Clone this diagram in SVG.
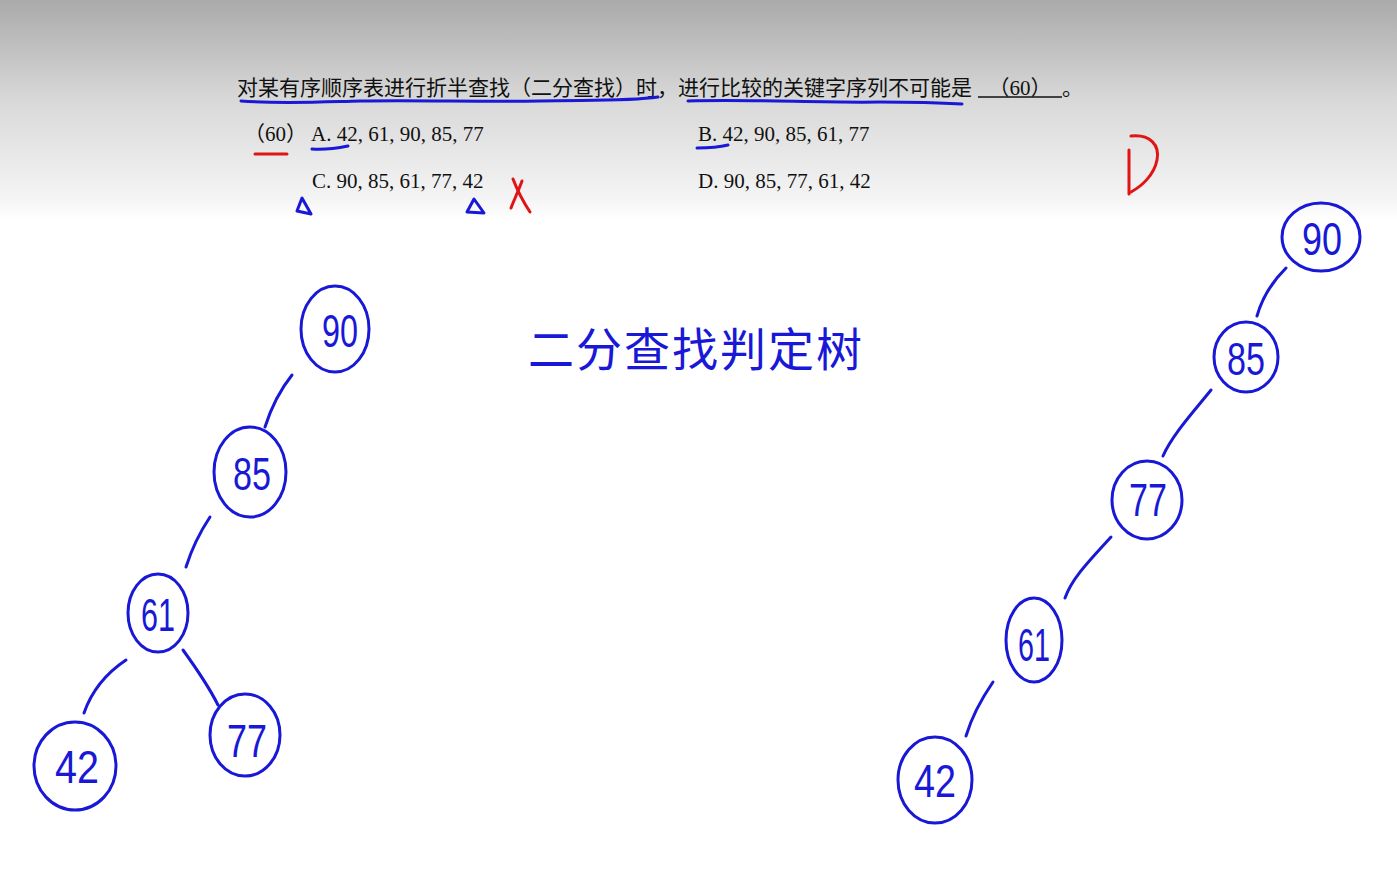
<svg xmlns="http://www.w3.org/2000/svg" width="1397" height="879" viewBox="0 0 1397 879">
<defs>
<linearGradient id="hdr" x1="0" y1="0" x2="0" y2="1">
<stop offset="0" stop-color="#aaaaaa"/>
<stop offset="0.45" stop-color="#d8d8d8"/>
<stop offset="0.9" stop-color="#f4f4f4"/>
<stop offset="1" stop-color="#ffffff"/>
</linearGradient>
</defs>
<style>
.q{font-family:"Liberation Serif","Noto Sans CJK SC",serif;font-size:21px;fill:#111}
.ink{fill:none;stroke:#1818d6;stroke-width:3;stroke-linecap:round;stroke-linejoin:round}
.red{fill:none;stroke:#e01414;stroke-width:3;stroke-linecap:round;stroke-linejoin:round}
.num{font-family:"Liberation Sans","DejaVu Sans",sans-serif;font-size:46px;fill:#1818d6;text-anchor:middle}
.hw{font-family:"Noto Sans CJK SC",sans-serif;font-size:46px;fill:#1818d6}
</style>
<rect width="1397" height="879" fill="#ffffff"/>
<rect width="1397" height="220" fill="url(#hdr)"/>

<g id="question">
<text class="q" x="237" y="95">对某有序顺序表进行折半查找（二分查找）时，进行比较的关键字序列不可能是</text>
<line x1="978" y1="97" x2="1062" y2="97" stroke="#111" stroke-width="1.5"/>
<text class="q" x="1020" y="95" text-anchor="middle">（60）</text>
<text class="q" x="1062" y="95">。</text>
<text class="q" x="244" y="141">（60）</text>
<text class="q" x="311" y="141">A. 42, 61, 90, 85, 77</text>
<text class="q" x="698" y="141">B. 42, 90, 85, 61, 77</text>
<text class="q" x="312" y="188">C. 90, 85, 61, 77, 42</text>
<text class="q" x="698" y="188">D. 90, 85, 77, 61, 42</text>
</g>

<g id="annotations">
<path class="ink" d="M241,101 C280,104 320,102 360,101 C420,100 480,102 540,101 C600,100 630,101 658,97"/>
<path class="ink" d="M688,101 C750,99 820,103 880,102 C920,102 945,103 962,104"/>
<path class="red" d="M255,154 L287,154"/>
<path class="ink" d="M312,149 C325,150 338,148 348,146"/>
<path class="ink" d="M697,148 C708,148 720,147 728,145"/>
<path class="ink" d="M302,198 L297,211 L311,214 Z"/>
<path class="ink" d="M474,199 L467,212 L484,213 Z"/>
<path class="red" d="M513,179 C518,192 524,203 530,212"/>
<path class="red" d="M522,181 C518,192 514,200 511,208"/>
<path class="red" d="M1129,150 L1129,194"/>
<path class="red" d="M1131,136 C1150,134 1160,145 1157,160 C1154,175 1142,186 1131,192"/>
<text class="hw" x="528" y="366" letter-spacing="2">二分查找判定树</text>
</g>

<g id="connectors">
<path class="ink" d="M292,375 C280,390 272,405 265,427"/>
<path class="ink" d="M210,517 C200,532 192,548 186,567"/>
<path class="ink" d="M126,660 C108,672 92,690 84,713"/>
<path class="ink" d="M183,650 C196,668 208,685 218,705"/>
<path class="ink" d="M1286,268 C1272,282 1262,298 1257,316"/>
<path class="ink" d="M1211,390 C1195,410 1172,435 1163,456"/>
<path class="ink" d="M1111,537 C1090,560 1072,578 1065,598"/>
<path class="ink" d="M993,682 C982,698 972,716 966,736"/>
</g>

<g id="L90"><ellipse class="ink" cx="335" cy="329" rx="34" ry="43"/><text class="num" x="340" y="347" textLength="36" lengthAdjust="spacingAndGlyphs">90</text></g>
<g id="L85"><ellipse class="ink" cx="250" cy="472" rx="36" ry="45"/><text class="num" x="252" y="490" textLength="38" lengthAdjust="spacingAndGlyphs">85</text></g>
<g id="L61"><ellipse class="ink" cx="158" cy="613" rx="30" ry="39"/><text class="num" x="158" y="631" textLength="34" lengthAdjust="spacingAndGlyphs">61</text></g>
<g id="L42"><ellipse class="ink" cx="75" cy="766" rx="41" ry="44"/><text class="num" x="77" y="783" textLength="44" lengthAdjust="spacingAndGlyphs">42</text></g>
<g id="L77"><ellipse class="ink" cx="245" cy="735" rx="35" ry="41"/><text class="num" x="247" y="757" textLength="40" lengthAdjust="spacingAndGlyphs">77</text></g>

<g id="R90"><ellipse class="ink" cx="1321" cy="237" rx="39" ry="34"/><text class="num" x="1322" y="255" textLength="40" lengthAdjust="spacingAndGlyphs">90</text></g>
<g id="R85"><ellipse class="ink" cx="1246" cy="357" rx="32" ry="35"/><text class="num" x="1246" y="375" textLength="38" lengthAdjust="spacingAndGlyphs">85</text></g>
<g id="R77"><ellipse class="ink" cx="1147" cy="500" rx="35" ry="39"/><text class="num" x="1148" y="516" textLength="38" lengthAdjust="spacingAndGlyphs">77</text></g>
<g id="R61"><ellipse class="ink" cx="1034" cy="640" rx="28" ry="42"/><text class="num" x="1034" y="661" textLength="32" lengthAdjust="spacingAndGlyphs">61</text></g>
<g id="R42"><ellipse class="ink" cx="935" cy="780" rx="37" ry="43"/><text class="num" x="935" y="797" textLength="42" lengthAdjust="spacingAndGlyphs">42</text></g>
</svg>
